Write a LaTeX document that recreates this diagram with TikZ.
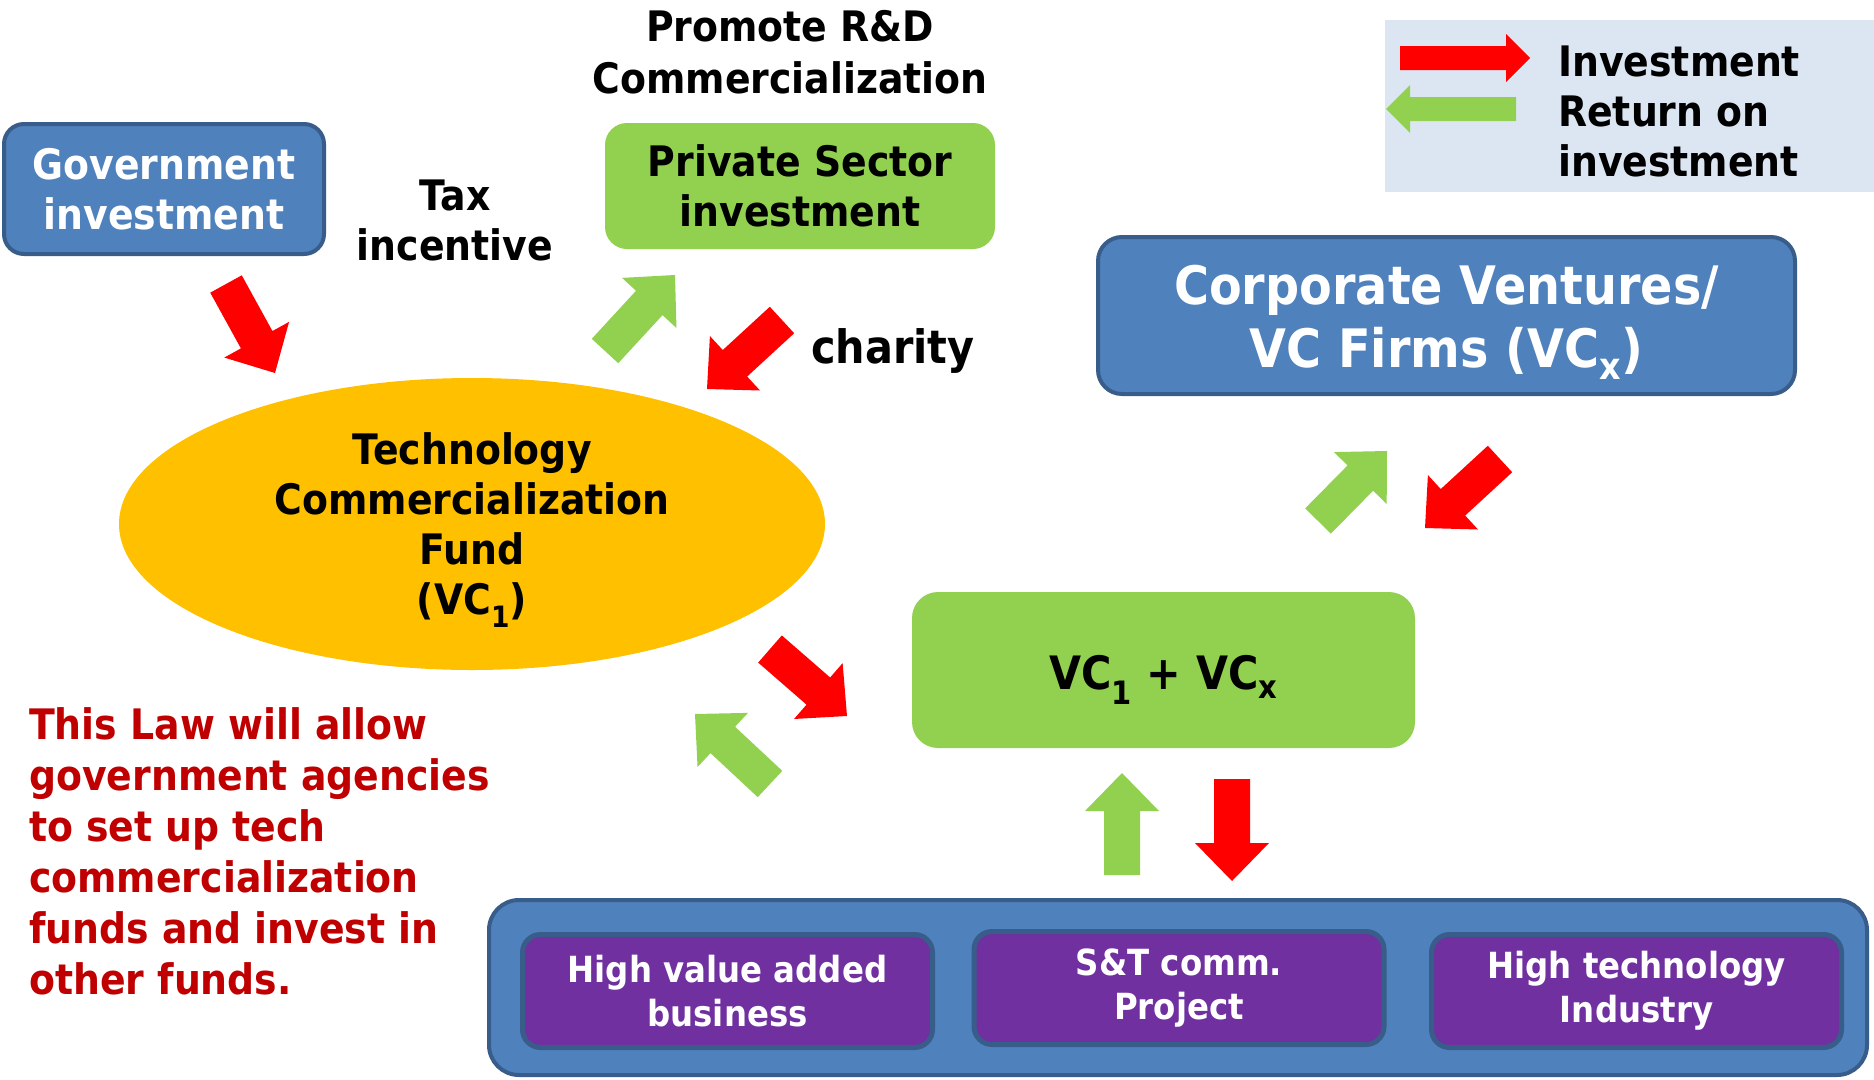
\documentclass[tikz,border=0pt]{standalone}
\usepackage{fontspec}
\setmainfont{DejaVu Sans}[FakeStretch=0.9]
\usetikzlibrary{calc,shapes.geometric}
\definecolor{fillblue}{HTML}{4F81BD}
\definecolor{lineblue}{HTML}{385D8A}
\definecolor{leafgreen}{HTML}{92D050}
\definecolor{fundgold}{HTML}{FFC000}
\definecolor{sectorpurple}{HTML}{7030A0}
\definecolor{lawred}{HTML}{C00000}
\definecolor{legendbg}{HTML}{DCE6F2}
\def\blockarrow[#1](#2)(#3)(#4:#5:#6){%
	\coordinate (ab) at ($(#3)!#6pt!(#2)$);
	\fill[#1] ($(#2)!#4pt!90:(#3)$) -- ($(ab)!#4pt!90:(#3)$) -- ($(ab)!#5pt!90:(#3)$) -- (#3) -- ($(ab)!#5pt!-90:(#3)$) -- ($(ab)!#4pt!-90:(#3)$) -- ($(#2)!#4pt!-90:(#3)$) -- cycle;}

\begin{document}
\begin{tikzpicture}[x=1pt,y=-1pt,
		txt/.style={align=center,inner sep=0,font=\bfseries\fontsize{42}{50}\selectfont},
		bluebox/.style={txt,rounded corners=20pt,fill=fillblue,draw=lineblue,line width=4pt,text=white},
		greenbox/.style={txt,rounded corners=22pt,fill=leafgreen},
		sectorbox/.style={txt,rounded corners=18pt,fill=sectorpurple,draw=lineblue,line width=5pt,text=white,minimum width=410pt,minimum height=113pt,font=\bfseries\fontsize{36}{44}\selectfont}]
				\useasboundingbox (0,0) rectangle (1874,1079);
				
				\node[fill=legendbg,minimum width=489pt,minimum height=172pt,inner sep=0] (legend) at (1629.5,106) {};
				\coordinate (li1) at (1400,58);
				\coordinate (li2) at (1530,58);
				\coordinate (lr1) at (1516,109);
				\coordinate (lr2) at (1386,109);
				\blockarrow[red](li1)(li2)(12:24:24)
				\blockarrow[leafgreen](lr1)(lr2)(12:24:24)
				\node[txt,align=left,anchor=west] (legtext) at (1558,111) {Investment\\Return on\\investment};
				
				\node[bluebox,minimum width=320pt,minimum height=130pt] (gov) at (164,189) {Government\\investment};
				\node[txt] (tax) at (455,220) {Tax\\incentive};
				\node[txt,font=\bfseries\fontsize{42}{52}\selectfont] (promote) at (790,52) {Promote R\&D\\Commercialization};
				\node[greenbox,minimum width=390pt,minimum height=126pt] (private) at (800,186) {Private Sector\\investment};
				\node[txt,font=\bfseries\fontsize{46}{50}\selectfont] (charity) at (893,351) {charity};
				\node[bluebox,rounded corners=24pt,minimum width=697pt,minimum height=157pt] (corp) at (1446.5,315.5) {};
				\node[txt,text=white,font=\bfseries\fontsize{53}{63}\selectfont] (corptext) at (1446.5,322) {Corporate Ventures/\\VC Firms (VC\textsubscript{x})};
				
				\node[ellipse,txt,fill=fundgold,minimum width=706pt,minimum height=292pt] (fund) at (472,524) {};
				\node[txt] (fundtext) at (472,530) {Technology\\Commercialization\\Fund\\(VC\textsubscript{1})};
				\node[greenbox,rounded corners=26pt,minimum width=503pt,minimum height=156pt] (mix) at (1163.5,670) {};
				\node[txt,font=\bfseries\fontsize{46}{50}\selectfont] (mixtext) at (1163.5,680) {VC\textsubscript{1} + VC\textsubscript{x}};
				
				\node[txt,align=left,anchor=west,text=lawred,font=\bfseries\fontsize{42}{51}\selectfont] (law) at (29,851) {This Law will allow\\government agencies\\to set up tech\\commercialization\\funds and invest in\\other funds.};
				
				\node[bluebox,rounded corners=30pt,minimum width=1378pt,minimum height=175pt] (base) at (1178,987.5) {};
				\node[sectorbox] (business) at (727.5,991) {High value added\\business};
				\node[sectorbox] (project) at (1179,988) {S\&T comm.\\Project};
				\node[sectorbox] (industry) at (1636.5,991) {High technology\\Industry};
				
				\coordinate (a1) at (226,284);
				\coordinate (a2) at (275,373);
				\coordinate (b1) at (605,351);
				\coordinate (b2) at (675,275);
				\coordinate (c1) at (782,320);
				\coordinate (c2) at (707,389);
				\coordinate (d1) at (1318,521);
				\coordinate (d2) at (1387,451);
				\coordinate (e1) at (1500,459);
				\coordinate (e2) at (1425,528);
				\coordinate (f1) at (770,649);
				\coordinate (f2) at (847,716);
				\coordinate (g1) at (770,784);
				\coordinate (g2) at (695,714);
				\coordinate (h1) at (1122,875);
				\coordinate (h2) at (1122,773);
				\coordinate (i1) at (1232,779);
				\coordinate (i2) at (1232,881);
				\blockarrow[red](a1)(a2)(18:37:38)
				\blockarrow[leafgreen](b1)(b2)(18:37:38)
				\blockarrow[red](c1)(c2)(18:37:38)
				\blockarrow[leafgreen](d1)(d2)(18:37:38)
				\blockarrow[red](e1)(e2)(18:37:38)
				\blockarrow[red](f1)(f2)(18:37:38)
				\blockarrow[leafgreen](g1)(g2)(18:37:38)
				\blockarrow[leafgreen](h1)(h2)(18:37:38)
				\blockarrow[red](i1)(i2)(18:37:38)
\end{tikzpicture}
\end{document}
